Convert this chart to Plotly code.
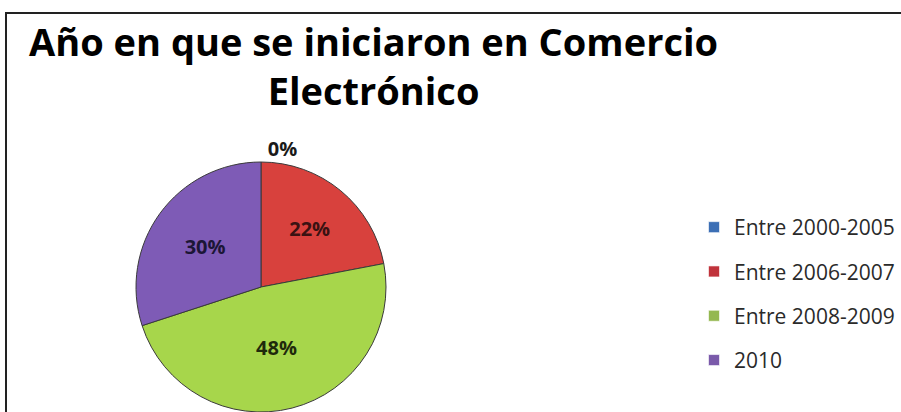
import plotly.graph_objects as go

# Data
categories = ["Entre 2000-2005", "Entre 2006-2007", "Entre 2008-2009", "2010"]
values = [0, 22, 48, 30]
slice_colors = ["#4F81BD", "#D8413D", "#A7D64B", "#7E5BB6"]
legend_colors = ["#3C6FB5", "#C0333B", "#94B850", "#7A5AAA"]
text_colors = ["#1a1a1a", "#3a1212", "#1f2a0c", "#1c1636"]
title_text = "Año en que se iniciaron en Comercio<br>Electrónico"

W, H = 901, 412
cx, cy, r = 261, 287, 125

fig = go.Figure()
fig.add_trace(go.Pie(
    labels=categories,
    values=values,
    sort=False,
    direction="clockwise",
    rotation=0,
    marker=dict(colors=slice_colors, line=dict(color="#3a3a3a", width=1)),
    textinfo="percent",
    textposition=["outside", "inside", "inside", "inside"],
    insidetextorientation="horizontal",
    textfont=dict(family="Open Sans", size=20, color=text_colors, weight="bold"),
    domain=dict(x=[(cx - r) / W, (cx + r) / W], y=[(H - cy - r) / H, (H - cy + r) / H]),
    hoverinfo="label+percent",
    showlegend=False,
))

# legend entries (one per category, spaced like the reference)
for cat, col in zip(categories, legend_colors):
    fig.add_trace(go.Scatter(
        x=[None], y=[None], mode="markers", name=cat, legendgroup=cat,
        marker=dict(symbol="square", size=11, color=col,
                    line=dict(color="rgba(255,255,255,0.6)", width=1)),
        hoverinfo="skip",
    ))

fig.update_layout(
    width=W, height=H,
    margin=dict(l=0, r=0, t=0, b=0, autoexpand=False),
    paper_bgcolor="white",
    plot_bgcolor="white",
    xaxis=dict(visible=False),
    yaxis=dict(visible=False),
    annotations=[dict(text=title_text, xref="paper", yref="paper",
                      x=373 / W, xanchor="center", y=1 - 13 / H, yanchor="top",
                      showarrow=False, align="center",
                      font=dict(family="Open Sans", size=38, color="black", weight="bold"))],
    legend=dict(x=694 / W, xanchor="left", y=1 - 207 / H, yanchor="top",
                traceorder="grouped", tracegroupgap=14,
                font=dict(family="Open Sans", size=21, color="#2a2a2a"),
                bgcolor="rgba(0,0,0,0)"),
    shapes=[dict(type="rect", xref="paper", yref="paper",
                 x0=6 / W, x1=1.3, y0=-0.3, y1=1 - 13 / H,
                 line=dict(color="#222222", width=2), fillcolor="rgba(0,0,0,0)")],
)

fig.write_html("out.html")
